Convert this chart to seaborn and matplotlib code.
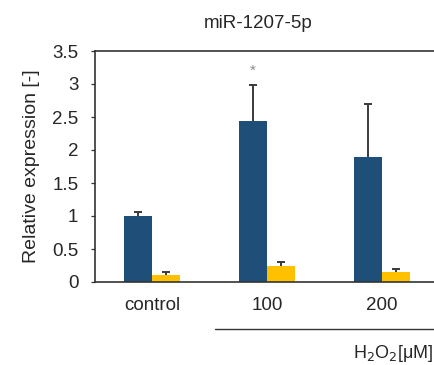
import numpy as np
import pandas as pd
import seaborn as sns
import matplotlib.pyplot as plt
from matplotlib.ticker import FixedLocator

# Data
categories = ["control", "100", "200"]
series = ["blue", "yellow"]
blue_vals = [1.00, 2.44, 1.89]
blue_err = [0.06, 0.55, 0.81]
yellow_vals = [0.11, 0.24, 0.15]
yellow_err = [0.04, 0.07, 0.04]

df = pd.DataFrame({
    "group": categories * 2,
    "series": ["blue"] * 3 + ["yellow"] * 3,
    "value": blue_vals + yellow_vals,
})

sns.set_style("white")
plt.rcParams["font.family"] = ["Liberation Sans", "DejaVu Sans"]

fig = plt.figure(figsize=(4.35, 3.65), dpi=100)
ax = fig.add_axes([95 / 435, 83 / 365, 344 / 435, 231 / 365])

sns.barplot(data=df, x="group", y="value", hue="series", order=categories,
            hue_order=series, palette=["#1F4E79", "#FFC000"], width=0.49,
            saturation=1, errorbar=None, legend=False, ax=ax, edgecolor="none")

# upward-only error bars, positioned from the drawn patches
errs = blue_err + yellow_err
vals = blue_vals + yellow_vals
for p, v, e in zip(ax.patches, vals, errs):
    xc = p.get_x() + p.get_width() / 2
    _, caps, _ = ax.errorbar(xc, v, yerr=[[0], [e]], fmt="none",
                             ecolor="#3a3a3a", elinewidth=1.4, capsize=2.6,
                             capthick=1.4)
    caps[0].set_visible(False)

# significance mark over 100 / blue
p = ax.patches[1]
ax.text(p.get_x() + p.get_width() / 2, 3.2, "*", ha="center", va="center",
        fontsize=11, color="#8c8c8c")

ax.set_xlim(-0.5, 2.5)
ax.set_ylim(0, 3.5)
ax.set_yticks(np.arange(0, 3.51, 0.5))
ax.set_yticklabels(["0", "0.5", "1", "1.5", "2", "2.5", "3", "3.5"])
ax.xaxis.set_minor_locator(FixedLocator([0.5, 1.5]))
ax.tick_params(axis="x", which="major", length=0, labelsize=13.5, pad=11)
ax.tick_params(axis="x", which="minor", direction="in", length=4, width=1,
               color="#333333")
ax.tick_params(axis="y", direction="out", length=3, width=0.9, color="#333333",
               left=True, labelsize=13.5, pad=9)
ax.set_xlabel("")
ax.set_ylabel("Relative expression [-]", fontsize=14, labelpad=9)
for s in ["left", "bottom", "top"]:
    ax.spines[s].set_color("#333333")
    ax.spines[s].set_linewidth(1.2)
ax.spines["right"].set_visible(False)

fig.text(258 / 435, 1 - 23 / 365, "miR-1207-5p", ha="center", va="center",
         fontsize=13.5)
fig.add_artist(plt.Line2D([215 / 435, 1], [1 - 329 / 365] * 2,
                          color="#333333", lw=1))
fig.text(433 / 435, 1 - 354 / 365, "H$_2$O$_2$[μM]", ha="right",
         va="center", fontsize=13)

plt.savefig("out.png", dpi=100)
